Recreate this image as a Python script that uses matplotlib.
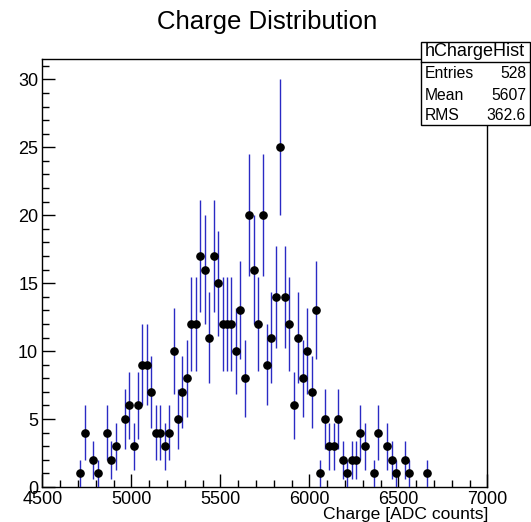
import numpy as np
import matplotlib
matplotlib.use("Agg")
import matplotlib.pyplot as plt
from matplotlib.patches import Rectangle
from matplotlib.lines import Line2D
from matplotlib.ticker import MultipleLocator

plt.rcParams['font.family'] = ['Liberation Sans', 'DejaVu Sans']

# -------- Histogram data (100 bins, 4500 - 7000) --------
hist_low = 4500
hist_high = 7000
counts = [
    0, 0, 0, 0, 0, 0, 0, 0, 1, 4,
    0, 2, 1, 0, 4, 2, 3, 0, 5, 6,
    3, 6, 9, 9, 7, 4, 4, 3, 4, 10,
    5, 7, 8, 12, 12, 17, 16, 11, 17, 15,
    12, 12, 12, 10, 13, 8, 20, 16, 12, 20,
    9, 11, 14, 25, 14, 12, 6, 11, 8, 10,
    7, 13, 1, 5, 3, 3, 5, 2, 1, 2,
    2, 4, 3, 0, 1, 4, 0, 3, 2, 1,
    0, 2, 1, 0, 0, 0, 1, 0, 0, 0,
    0, 0, 0, 0, 0, 0, 0, 0, 0, 0,
]

# -------- Stats box text --------
stats_name = "hChargeHist"
stats_labels = ["Entries", "Mean", "RMS"]
stats_values = ["528", "5607", "362.6"]

counts = np.array(counts, dtype=float)
edges = np.linspace(hist_low, hist_high, len(counts) + 1)
centers = 0.5 * (edges[:-1] + edges[1:])
mask = counts > 0

W, H = 531, 522
fig = plt.figure(figsize=(W / 100, H / 100), dpi=100)
ax = fig.add_axes([42.3 / W, 1 - 487 / H, 445 / W, 428 / H])

ax.errorbar(centers[mask], counts[mask], yerr=np.sqrt(counts[mask]),
            fmt='o', color='black', markersize=5.2, ecolor='#2a2ac4',
            elinewidth=1.0, capsize=0, zorder=3)

ax.set_xlim(hist_low, hist_high)
ax.set_ylim(0, 31.5)
ax.xaxis.set_major_locator(MultipleLocator(500))
ax.xaxis.set_minor_locator(MultipleLocator(100))
ax.yaxis.set_major_locator(MultipleLocator(5))
ax.yaxis.set_minor_locator(MultipleLocator(1))
ax.tick_params(which='both', direction='in', top=False, right=False,
               labelsize=13, width=1, colors='black')
ax.tick_params(which='major', length=9.5, pad=3)
ax.tick_params(which='minor', length=5)
for s in ax.spines.values():
    s.set_linewidth(1)

# title and axis label
fig.text(267 / W, 1 - 22 / H, "Charge Distribution", ha='center', va='center',
         fontsize=18.5)
fig.text(488 / W, 1 - 507 / H, "Charge [ADC counts]", ha='right', va='top',
         fontsize=12.6)

# -------- Stats box --------
bx0, bx1, by0, by1, bsep = 420.5, 529.5, 42, 125, 62
fig.add_artist(Rectangle((bx0 / W, 1 - by1 / H), (bx1 - bx0) / W, (by1 - by0) / H,
                         transform=fig.transFigure, facecolor='white',
                         edgecolor='black', linewidth=1, zorder=5))
fig.add_artist(Line2D([bx0 / W, bx1 / W], [1 - bsep / H, 1 - bsep / H],
                      transform=fig.transFigure, color='black', linewidth=1,
                      zorder=6))
fig.text((bx0 + bx1) / 2 / W, 1 - 51 / H, stats_name, ha='center', va='center',
         fontsize=13, zorder=7)
row_y = [73, 95, 116]
for lab, val, yy in zip(stats_labels, stats_values, row_y):
    fig.text(425 / W, 1 - yy / H, lab, ha='left', va='center', fontsize=11.3,
             zorder=7)
    fig.text(526 / W, 1 - yy / H, val, ha='right', va='center', fontsize=11.3,
             zorder=7)

plt.savefig("out.png", dpi=100)
